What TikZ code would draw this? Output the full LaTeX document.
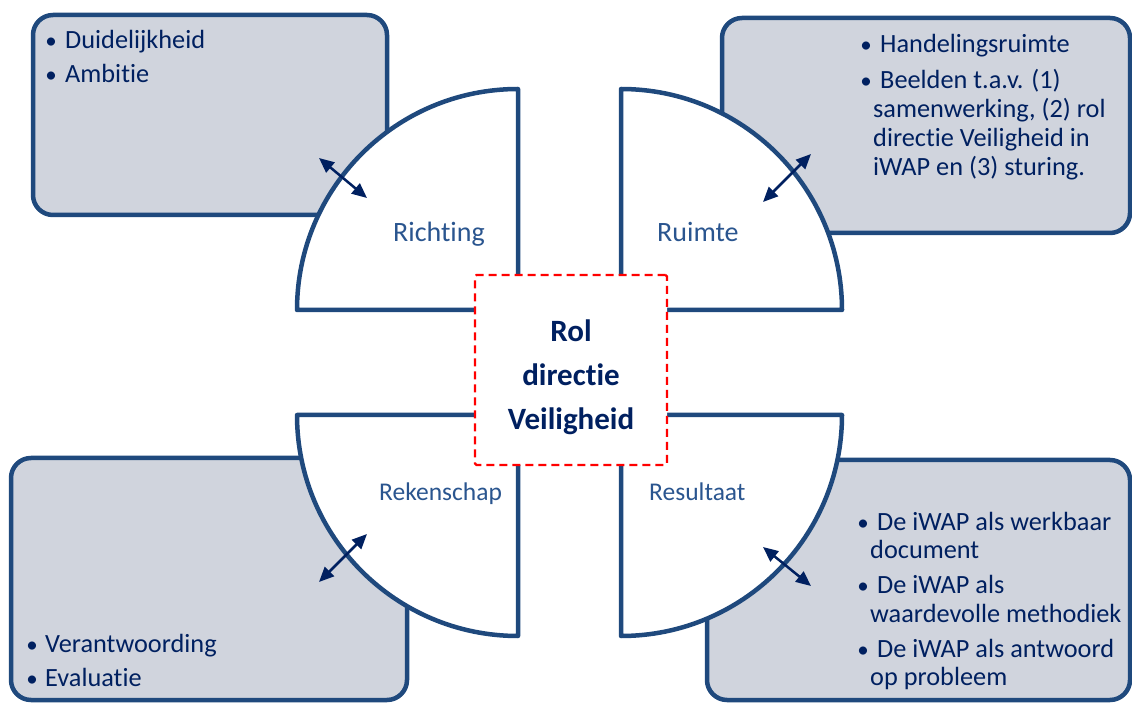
\documentclass[tikz,border=0pt]{standalone}
\usepackage{fontspec}
\setmainfont{Carlito}[Ligatures={NoCommon}]
\usetikzlibrary{arrows.meta}
\definecolor{edgeblue}{HTML}{1F497D}
\definecolor{boxfill}{HTML}{D0D4DD}
\definecolor{navy}{HTML}{002060}
\definecolor{labelblue}{HTML}{2A558F}
\tikzset{
  infobox/.style={draw=edgeblue, fill=boxfill, line width=4.5pt, rounded corners=20pt, inner sep=0pt, outer sep=0pt},
  sector/.style={draw=edgeblue, fill=white, line width=4.5pt, line join=round},
  boxtext/.style={anchor=base west, inner sep=0pt, text=navy, font=\fontsize{26.3pt}{30pt}\selectfont},
  bulletmark/.style={anchor=base, inner sep=0pt, text=navy, font=\fontsize{23pt}{30pt}\selectfont},
  seclabel/.style={anchor=base west, inner sep=0pt, text=labelblue, font=\fontsize{28pt}{32pt}\selectfont},
  seclabelsmall/.style={anchor=base west, inner sep=0pt, text=labelblue, font=\fontsize{25.5pt}{30pt}\selectfont},
  corebox/.style={draw=red, fill=white, line width=2.2pt, dash pattern=on 8pt off 5pt, rounded corners=1.5pt, minimum width=192pt, minimum height=190pt, inner sep=0pt},
  coretext/.style={anchor=base, inner sep=0pt, text=navy, font=\bfseries\fontsize{31pt}{36pt}\selectfont},
  link/.style={draw=navy, line width=2.5pt, {Triangle[length=15pt,width=13pt]}-{Triangle[length=15pt,width=13pt]}},
}
\begin{document}
\begin{tikzpicture}[x=1pt,y=1pt]
\useasboundingbox (0,0) rectangle (1132,702);

% outer boxes
\node[infobox, minimum width=354pt, minimum height=200pt] (boxTL) at (210,587) {};
\node[infobox, minimum width=408pt, minimum height=215pt] (boxTR) at (926,576.5) {};
\node[infobox, minimum width=396pt, minimum height=242pt] (boxBL) at (209,123) {};
\node[infobox, minimum width=423pt, minimum height=240pt] (boxBR) at (918.5,122) {};

% quarter sectors
\coordinate (cTL) at (518,392);
\coordinate (cTR) at (621,392);
\coordinate (cBL) at (518,287);
\coordinate (cBR) at (621,287);
\draw[sector] (cTL) -- ++(0,221) arc[start angle=90, end angle=180, radius=221] -- cycle;
\draw[sector] (cTR) -- ++(0,221) arc[start angle=90, end angle=0, radius=221] -- cycle;
\draw[sector] (cBL) -- ++(-221,0) arc[start angle=180, end angle=270, radius=221] -- cycle;
\draw[sector] (cBR) -- ++(221,0) arc[start angle=0, end angle=-90, radius=221] -- cycle;

% centre square
\node[corebox] (core) at (571,332) {};
\node[coretext] (coreA) at (571,360) {Rol};
\node[coretext] (coreB) at (571,316) {directie};
\node[coretext] (coreC) at (571,272) {Veiligheid};

% sector labels
\node[seclabel] (lblRichting) at (393,460) {Richting};
\node[seclabel] (lblRuimte) at (657,460) {Ruimte};
\node[seclabelsmall] (lblRekenschap) at (379,202) {Rekenschap};
\node[seclabelsmall] (lblResultaat) at (649,202) {Resultaat};

% top-left text
\node[bulletmark] (bTL1) at (51,653) {•};
\node[boxtext] (tTL1) at (65,653) {Duidelijkheid};
\node[bulletmark] (bTL2) at (51,619) {•};
\node[boxtext] (tTL2) at (65,619) {Ambitie};

% top-right text
\node[bulletmark] (bTR1) at (866,649) {•};
\node[boxtext] (tTR1) at (880,649) {Handelingsruimte};
\node[bulletmark] (bTR2) at (866,613) {•};
\node[boxtext] (tTR2) at (880,613) {Beelden t.a.v. (1)};
\node[boxtext] (tTR3) at (873,584) {samenwerking, (2) rol};
\node[boxtext] (tTR4) at (873,555) {directie Veiligheid in};
\node[boxtext] (tTR5) at (873,526) {iWAP en (3) sturing.};

% bottom-left text
\node[bulletmark] (bBL1) at (32,50) {•};
\node[boxtext] (tBL1) at (45,50) {Verantwoording};
\node[bulletmark] (bBL2) at (32,16) {•};
\node[boxtext] (tBL2) at (45,16) {Evaluatie};

% bottom-right text
\node[bulletmark] (bBR1) at (863,172) {•};
\node[boxtext] (tBR1) at (877,172) {De iWAP als werkbaar};
\node[boxtext] (tBR2) at (870,144) {document};
\node[bulletmark] (bBR2) at (863,109) {•};
\node[boxtext] (tBR3) at (877,109) {De iWAP als};
\node[boxtext] (tBR4) at (870,80) {waardevolle methodiek};
\node[bulletmark] (bBR3) at (863,45) {•};
\node[boxtext] (tBR5) at (877,45) {De iWAP als antwoord};
\node[boxtext] (tBR6) at (870,17) {op probleem};

% double arrows
\coordinate (aTLo) at (319,544);
\coordinate (aTLi) at (367,504);
\coordinate (aTRi) at (763,500);
\coordinate (aTRo) at (811,548);
\coordinate (aBLo) at (319,120);
\coordinate (aBLi) at (367,168);
\coordinate (aBRi) at (763,155);
\coordinate (aBRo) at (811,116);
\draw[link] (aTLo) -- (aTLi);
\draw[link] (aTRi) -- (aTRo);
\draw[link] (aBLo) -- (aBLi);
\draw[link] (aBRi) -- (aBRo);
\end{tikzpicture}
\end{document}
